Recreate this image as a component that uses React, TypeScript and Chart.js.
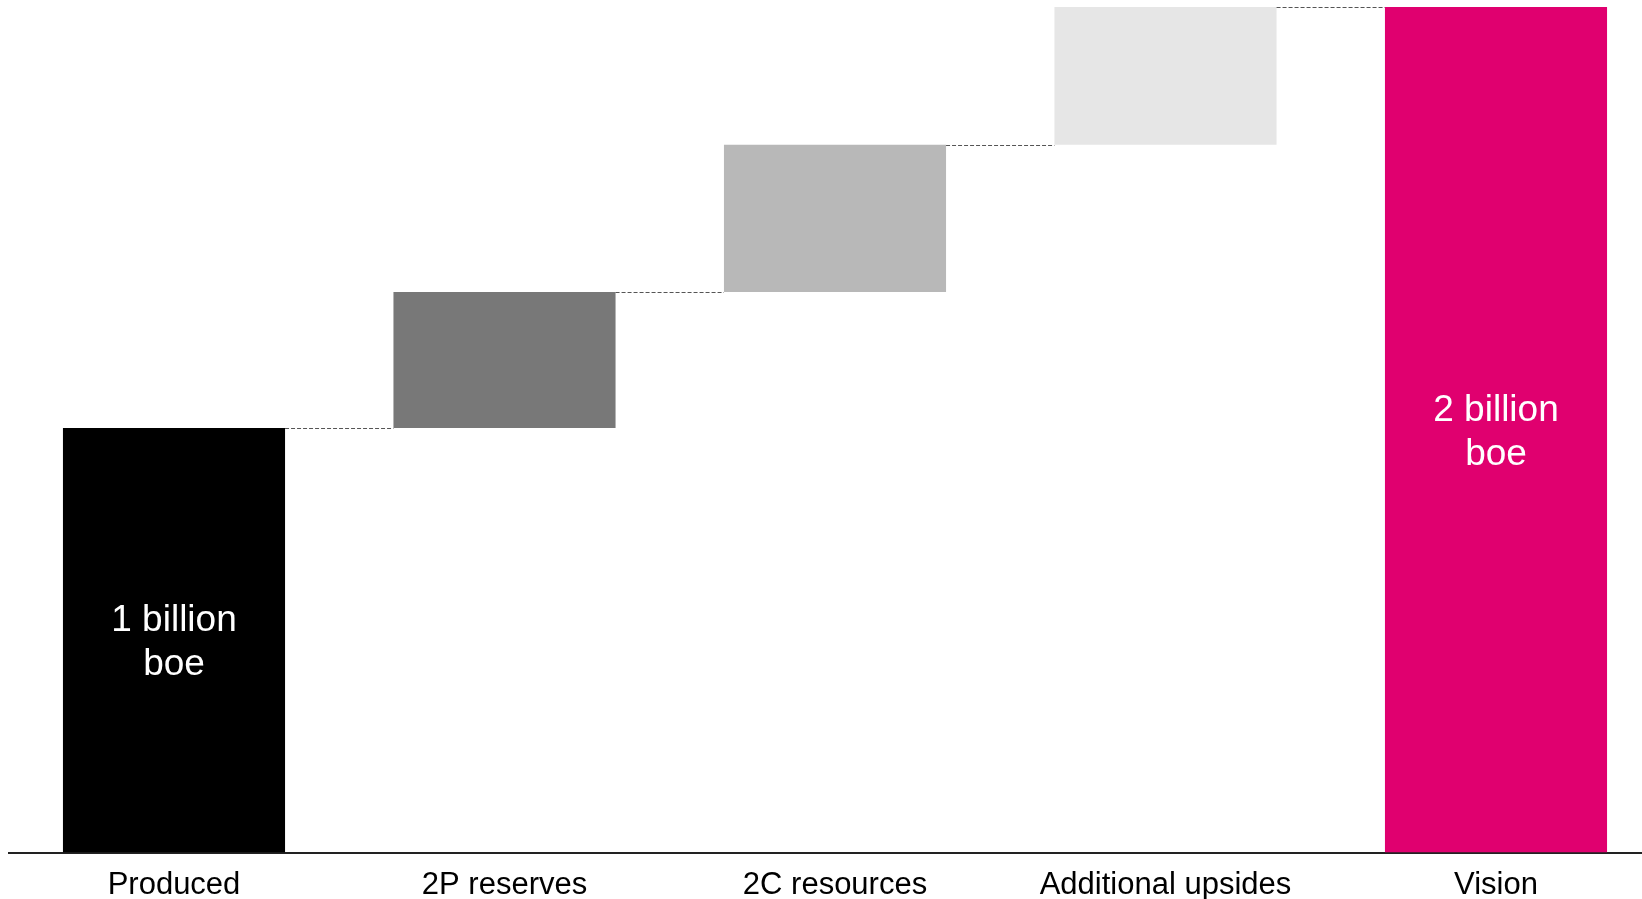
import React, { useEffect, useRef } from "react";
import { Chart, registerables } from "chart.js";

Chart.register(...registerables);

const categories = ["Produced", "2P reserves", "2C resources", "Additional upsides", "Vision"];
const barStart = [0, 1.004, 1.326, 1.674, 0];
const barEnd = [1.004, 1.326, 1.674, 2.0, 2.0];
const barColors = ["#000000", "#787878", "#b8b8b8", "#e6e6e6", "#e0006f"];
const barLabels: (string[] | null)[] = [["1 billion", "boe"], null, null, null, ["2 billion", "boe"]];

const CANVAS_W = 1670;
const CANVAS_H = 899;
const FONT = "'Liberation Sans', Arial, sans-serif";

const overlayPlugin = {
  id: "waterfallOverlay",
  afterDatasetsDraw(chart: any) {
    const ctx = chart.ctx;
    const meta = chart.getDatasetMeta(0);
    const els = meta.data;
    // dashed connectors
    ctx.save();
    ctx.strokeStyle = "#555555";
    ctx.lineWidth = 1;
    ctx.setLineDash([4, 2]);
    for (let i = 0; i < els.length - 1; i++) {
      const a = els[i].getProps(["x", "y", "base", "width"], true);
      const b = els[i + 1].getProps(["x", "y", "base", "width"], true);
      const y = Math.round(Math.min(a.y, a.base)) + 0.5;
      ctx.beginPath();
      ctx.moveTo(a.x + a.width / 2, y);
      ctx.lineTo(b.x - b.width / 2, y);
      ctx.stroke();
    }
    ctx.restore();
    // in-bar labels
    ctx.save();
    ctx.fillStyle = "#ffffff";
    ctx.font = `37px ${FONT}`;
    ctx.textAlign = "center";
    ctx.textBaseline = "middle";
    const lh = 44;
    els.forEach((el: any, i: number) => {
      const lines = barLabels[i];
      if (!lines) return;
      const p = el.getProps(["x", "y", "base"], true);
      const cy = (p.y + p.base) / 2 + 3;
      const startY = cy - ((lines.length - 1) * lh) / 2;
      lines.forEach((t, k) => ctx.fillText(t, p.x, startY + k * lh));
    });
    ctx.restore();
  },
};

export default function App() {
  const ref = useRef<HTMLCanvasElement | null>(null);
  useEffect(() => {
    if (!ref.current) return;
    const chart = new Chart(ref.current, {
      type: "bar",
      data: {
        labels: categories,
        datasets: [
          {
            data: categories.map((_, i) => [barStart[i], barEnd[i]]) as any,
            backgroundColor: barColors,
            borderWidth: 0,
            categoryPercentage: 1,
            barPercentage: 0.672,
          },
        ],
      },
      options: {
        responsive: false,
        animation: false,
        devicePixelRatio: 1,
        layout: { padding: { left: 8.75, right: 8.75, top: 7, bottom: 0 } },
        plugins: { legend: { display: false }, tooltip: { enabled: false } },
        scales: {
          x: {
            grid: { display: false, drawTicks: false },
            border: { display: true, color: "#222222", width: 2 },
            ticks: {
              color: "#000000",
              font: { family: FONT, size: 31 },
              padding: 14,
              maxRotation: 0,
              autoSkip: false,
            },
            afterFit: (scale: any) => {
              scale.height = 46.5;
            },
          },
          y: {
            display: false,
            min: 0,
            max: 2.0,
          },
        },
      },
      plugins: [overlayPlugin],
    });
    return () => chart.destroy();
  }, []);
  return (
    <div
      style={{
        position: "absolute",
        left: 0,
        top: 0,
        width: "1642px",
        height: "899px",
        overflow: "hidden",
        background: "#ffffff",
      }}
    >
      <canvas
        ref={ref}
        width={CANVAS_W}
        height={CANVAS_H}
        style={{ width: CANVAS_W + "px", height: CANVAS_H + "px", display: "block" }}
      />
    </div>
  );
}
